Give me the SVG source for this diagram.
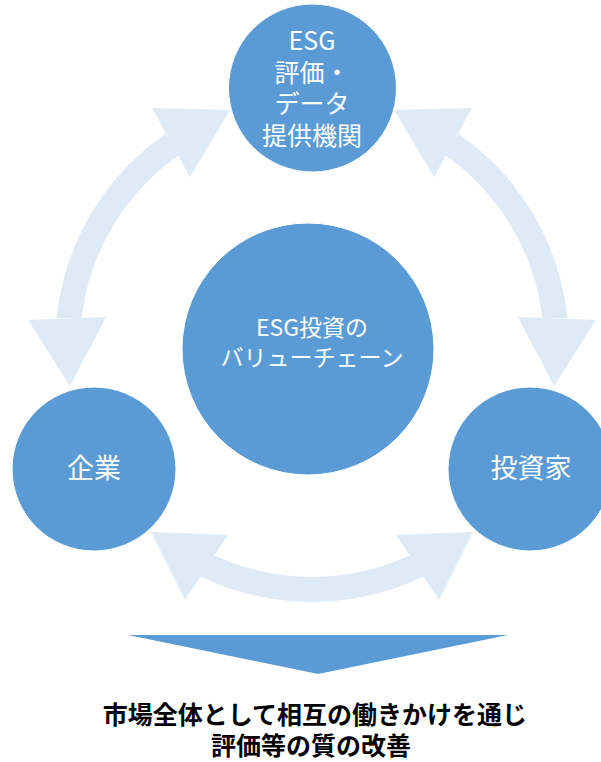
<svg xmlns="http://www.w3.org/2000/svg" width="601" height="762" viewBox="0 0 601 762">
  <style>
    .arr { fill: #DEEBF7; }
    .node { fill: #5B9BD5; stroke: #FFFFFF; stroke-width: 1; }
    .lbl { fill: #FFFFFF; font-family: "Noto Sans CJK JP", "Noto Sans", sans-serif; text-anchor: middle; }
    .foot { fill: #000000; font-family: "Noto Sans CJK JP", "Noto Sans", sans-serif; font-weight: bold; font-size: 25px; text-anchor: middle; }
  </style>
  <rect width="601" height="762" fill="#FFFFFF"/>
  <g id="connectors">
    <g id="arc-left">
      <path class="arr" d="M 56.5,318 A 257 257 0 0 1 166,133.5 L 178.2,155.5 A 232 232 0 0 0 81.7,318 Z"/>
      <polygon class="arr" points="152,108 230,110 190,177"/>
      <polygon class="arr" points="28,320 70,386 106,317"/>
    </g>
    <g id="arc-right">
      <path class="arr" d="M 567.5,318 A 257 257 0 0 0 458,133.5 L 445.8,155.5 A 232 232 0 0 1 542.3,318 Z"/>
      <polygon class="arr" points="472,108 394,110 434,177"/>
      <polygon class="arr" points="596,320 554,386 518,317"/>
    </g>
    <g id="arc-bottom">
      <path class="arr" d="M 214.5,555.5 A 232 232 0 0 0 409.5,555.5 L 423.5,576.6 A 257 257 0 0 1 200.5,576.6 Z"/>
      <polygon class="arr" points="151,532 228,535 185,600"/>
      <polygon class="arr" points="473,532 396,535 439,600"/>
    </g>
    <polygon id="result-arrow" points="128,635 508,635 318,674" fill="#5B9BD5"/>
  </g>
  <g id="node-center">
    <circle class="node" cx="308" cy="349" r="126"/>
    <text class="lbl" font-size="23"><tspan x="312" y="336">ESG投資の</tspan><tspan x="312" y="366">バリューチェーン</tspan></text>
  </g>
  <g id="node-top">
    <circle class="node" cx="312.5" cy="88" r="84"/>
    <text class="lbl" font-size="25"><tspan x="312" y="50">ESG</tspan><tspan x="312" y="82">評価・</tspan><tspan x="312" y="113">データ</tspan><tspan x="312" y="145">提供機関</tspan></text>
  </g>
  <g id="node-company">
    <circle class="node" cx="94" cy="469" r="82"/>
    <text class="lbl" font-size="27" x="94" y="478">企業</text>
  </g>
  <g id="node-investor">
    <circle class="node" cx="530" cy="469" r="82"/>
    <text class="lbl" font-size="27" x="531" y="478">投資家</text>
  </g>
  <g id="result-text">
    <text class="foot"><tspan x="315" y="724">市場全体として相互の働きかけを通じ</tspan><tspan x="311" y="755">評価等の質の改善</tspan></text>
  </g>
</svg>
